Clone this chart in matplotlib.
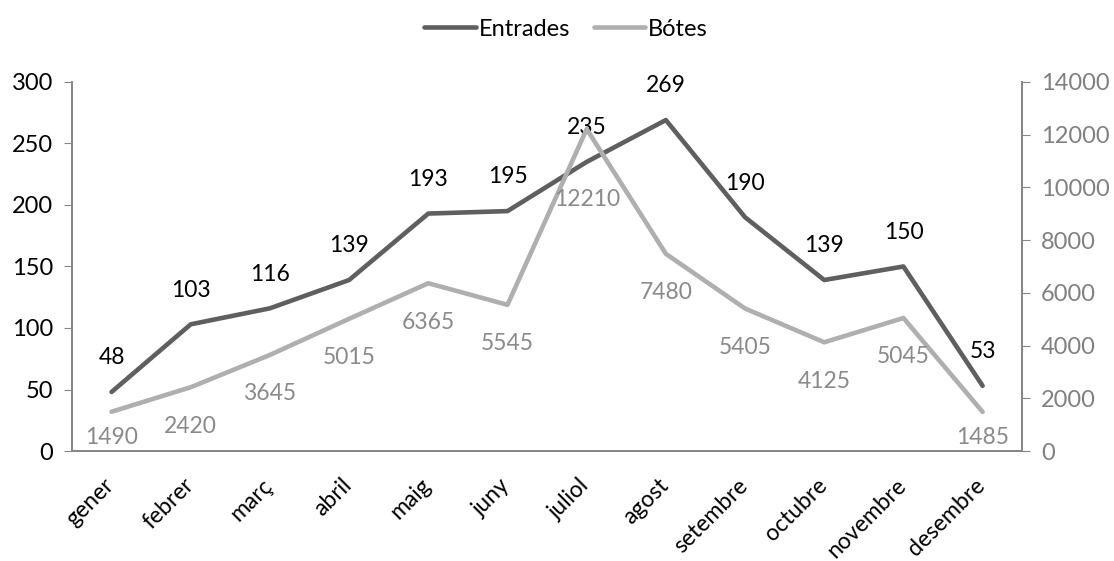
import matplotlib.pyplot as plt
import matplotlib.transforms as mtransforms
import numpy as np

plt.rcParams['font.family'] = ['Lato', 'DejaVu Sans']

mesos = ["gener", "febrer", "març", "abril", "maig", "juny", "juliol",
         "agost", "setembre", "octubre", "novembre", "desembre"]
entrades = [48, 103, 116, 139, 193, 195, 235, 269, 190, 139, 150, 53]
botes = [1490, 2420, 3645, 5015, 6365, 5545, 12210, 7480, 5405, 4125, 5045, 1485]

fosc = "#5f5f5f"
clar = "#afafaf"
eix = "#868686"

fig = plt.figure(figsize=(11.14, 5.61), dpi=100)
ax = fig.add_axes([0.0646, 0.196, 0.853, 0.658])
ax2 = ax.twinx()

x = np.arange(len(mesos))
l1, = ax.plot(x, entrades, color=fosc, lw=3.3, solid_capstyle='round', zorder=3)
l2, = ax2.plot(x, botes, color=clar, lw=3.3, solid_capstyle='round', zorder=2)

ax.set_xlim(-0.5, 11.5)
ax.set_ylim(0, 300)
ax2.set_ylim(0, 14000)
ax.set_yticks(np.arange(0, 301, 50))
ax2.set_yticks(np.arange(0, 14001, 2000))

ax.set_xticks(x)
ax.set_xticklabels(mesos, rotation=45, ha='right', rotation_mode='anchor', fontsize=16.5)
ax.tick_params(axis='x', length=0, pad=17)
desp = mtransforms.ScaledTranslation(-8 / 100, 0, fig.dpi_scale_trans)
for lab in ax.get_xticklabels():
    lab.set_transform(lab.get_transform() + desp)
ax.tick_params(axis='y', labelsize=17, color=eix, length=5.5, pad=8)
ax2.tick_params(axis='y', labelsize=17, color=eix, labelcolor="#808080", length=5.5, pad=8)

for a in (ax, ax2):
    a.spines['top'].set_visible(False)
    for s in ('left', 'right', 'bottom'):
        a.spines[s].set_color(eix)
        a.spines[s].set_linewidth(1.3)

for xi, v in zip(x, entrades):
    ax.annotate(str(v), (xi, v), xytext=(0, 17), textcoords='offset points',
                ha='center', va='bottom', fontsize=16.5, color='black', zorder=5)

# desplaçaments propis d'algunes etiquetes de Bótes
baix = {0: -11, 6: -43, 11: -11}
for xi, v in zip(x, botes):
    ax2.annotate(str(v), (xi, v), xytext=(0, baix.get(xi, -20.5)), textcoords='offset points',
                 ha='center', va='top', fontsize=16.5, color="#8a8a8a", zorder=5)

fig.legend([l1, l2], ["Entrades", "Bótes"], loc='center', bbox_to_anchor=(0.508, 0.948),
           ncol=2, frameon=False, fontsize=17, handlelength=2.2, handletextpad=0.1,
           columnspacing=1.0)

fig.savefig("out.png", dpi=100)
